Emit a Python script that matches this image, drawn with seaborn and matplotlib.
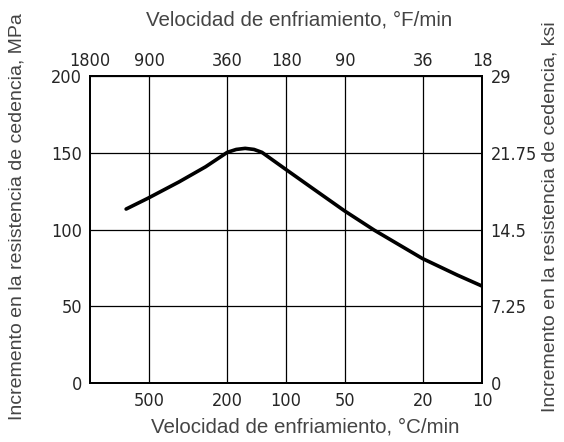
import numpy as np
import pandas as pd
import matplotlib
matplotlib.use("Agg")
import matplotlib.pyplot as plt
import seaborn as sns

# datos
rate_c = [656, 510, 352, 258, 200, 180, 162, 146, 133, 102, 74, 50.4, 35.6, 20.2, 13.4, 10]
incr_mpa = [113.4, 120.3, 131.1, 140.9, 150.3, 152.2, 152.9, 152.2, 150.3, 139.8,
            127.2, 112.2, 99.7, 81.2, 70.4, 63.2]

bottom_ticks = [500, 200, 100, 50, 20, 10]
top_ticks = [1800, 900, 360, 180, 90, 36, 18]
left_ticks = [0, 50, 100, 150, 200]
right_ticks = [0, 7.25, 14.5, 21.75, 29]
right_labels = ["0", "7.25", "14.5", "21.75", "29"]

df = pd.DataFrame({"rate": rate_c, "incr": incr_mpa})

sns.set_style("white")
tick_font = dict(family="DejaVu Sans", stretch="condensed", size=13)
xlab_font = dict(family=["Liberation Sans", "DejaVu Sans"], size=14.8, color="#444444")
ylab_font = dict(family=["Liberation Sans", "DejaVu Sans"], size=14, color="#444444")

fig = plt.figure(figsize=(5.64, 4.42), dpi=100)
ax = fig.add_axes([0.160, 0.133, 0.695, 0.695])

sns.lineplot(data=df, x="rate", y="incr", ax=ax, color="black", linewidth=2.6,
             solid_capstyle="round", solid_joinstyle="round")

ax.set_xscale("log")
ax.set_xlim(1000, 10)
ax.set_ylim(0, 200)
ax.set_xticks(bottom_ticks)
ax.set_xticklabels([str(t) for t in bottom_ticks])
ax.minorticks_off()
ax.set_yticks(left_ticks)
ax.grid(True, color="black", linewidth=0.9)
ax.tick_params(length=0, pad=6)
for lab in ax.get_xticklabels() + ax.get_yticklabels():
    lab.set(**tick_font)
for sp in ax.spines.values():
    sp.set_color("black")
    sp.set_linewidth(1.2)

ax.set_xlabel("Velocidad de enfriamiento, °C/min", **xlab_font)
ax.xaxis.set_label_coords(0.548, -0.112)
ax.set_ylabel("Incremento en la resistencia de cedencia, MPa", **ylab_font)
ax.yaxis.set_label_coords(-0.165, 0.542)

# eje superior en °F/min
axt = ax.twiny()
axt.set_xscale("log")
axt.set_xlim(1800, 18)
axt.set_xticks(top_ticks)
axt.set_xticklabels([str(t) for t in top_ticks])
axt.minorticks_off()
axt.tick_params(length=0, pad=4)
for lab in axt.get_xticklabels():
    lab.set(**tick_font)
axt.set_xlabel("Velocidad de enfriamiento, °F/min", **xlab_font)
axt.xaxis.set_label_coords(0.533, 1.163)

# eje derecho en ksi
axr = ax.twinx()
axr.set_ylim(0, 29)
axr.set_yticks(right_ticks)
axr.set_yticklabels(right_labels)
axr.tick_params(length=0, pad=6)
for lab in axr.get_yticklabels():
    lab.set(**tick_font)
axr.set_ylabel("Incremento en la resistencia de cedencia, ksi", **ylab_font)
axr.yaxis.set_label_coords(1.152, 0.542)
for a in (axt, axr):
    for sp in a.spines.values():
        sp.set_color("black")
        sp.set_linewidth(1.2)

fig.savefig("out.png", dpi=100)
